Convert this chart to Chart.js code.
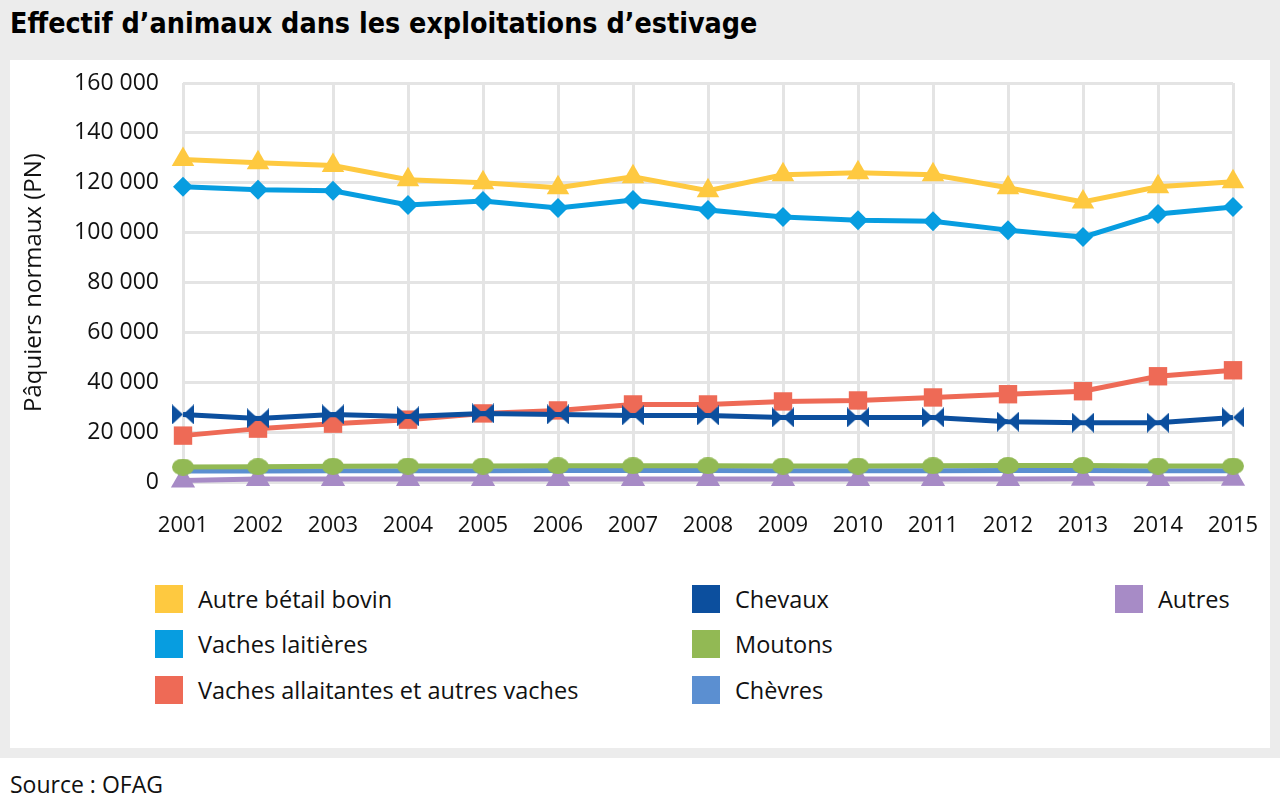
<!DOCTYPE html>
<html lang="fr">
<head>
  <meta charset="UTF-8">
  <title>Effectif d'animaux dans les exploitations d'estivage</title>
  <script src="https://cdn.jsdelivr.net/npm/chart.js"></script>
  <style>
    body {
      margin: 0;
      width: 1280px;
      height: 807px;
      background: #fff;
      font-family: "Open Sans", Arial, sans-serif;
      position: relative;
      overflow: hidden;
    }
    #top {
      position: absolute; left: 0; top: 0; width: 1280px; height: 758px;
      background: #ececec;
    }
    #panel {
      position: absolute; left: 10px; top: 60px; width: 1260px; height: 688px;
      background: #fff;
    }
    h1 {
      position: absolute; left: 10px; top: 7px; margin: 0;
      font-family: "DejaVu Sans", sans-serif;
      font-stretch: condensed;
      font-weight: bold;
      font-size: 28.4px;
      color: #000;
      white-space: nowrap;
    }
    #chartBox {
      position: absolute; left: 10px; top: 60px; width: 1260px; height: 490px;
    }
    .leg {
      position: absolute; font-size: 23.5px; color: #111; white-space: nowrap;
      line-height: 28px;
    }
    .leg span.box {
      position: absolute; left: -43px; top: 0; width: 28px; height: 28px;
    }
    #source {
      position: absolute; left: 10px; top: 768px; font-size: 23px; color: #111;
    }
  </style>
</head>
<body>
  <div id="top"></div>
  <div id="panel"></div>
  <h1>Effectif d’animaux dans les exploitations d’estivage</h1>
  <div id="chartBox"><canvas id="lineChart"></canvas></div>
  <div id="legend"></div>
  <div id="source">Source : OFAG</div>

  <script>
    const years = ["2001", "2002", "2003", "2004", "2005", "2006", "2007", "2008",
                   "2009", "2010", "2011", "2012", "2013", "2014", "2015"];

    const autreBetail = [129300, 128000, 126900, 121200, 120000, 118000, 122400, 116800,
                         123200, 124000, 123200, 118000, 112300, 118400, 120400];
    const vachesLaitieres = [118400, 117200, 116800, 111100, 112700, 109900, 113100, 109100,
                             106300, 105000, 104600, 101000, 98200, 107500, 110300];
    const vachesAllaitantes = [18600, 21400, 23400, 25000, 27500, 28700, 31100, 31100,
                               32300, 32700, 33900, 35200, 36400, 42400, 44800];
    const chevaux = [27100, 25500, 27100, 26300, 27500, 27100, 26700, 26700,
                     25900, 25900, 25900, 24200, 23800, 23800, 25900];
    const moutons = [6000, 6100, 6300, 6400, 6400, 6500, 6500, 6500,
                     6400, 6400, 6500, 6600, 6600, 6400, 6400];
    const chevres = [4400, 4400, 4500, 4500, 4500, 4600, 4600, 4600,
                     4500, 4500, 4500, 4600, 4600, 4500, 4500];
    const autres = [600, 1200, 1200, 1200, 1200, 1200, 1200, 1200,
                    1200, 1200, 1200, 1200, 1300, 1200, 1300];

    const yTicks = [0, 20000, 40000, 60000, 80000, 100000, 120000, 140000, 160000];

    const colors = {
      autreBetail: "#fec940",
      vachesLaitieres: "#079de0",
      vachesAllaitantes: "#ee6a56",
      chevaux: "#0c4f9e",
      moutons: "#92b954",
      chevres: "#5b8fd1",
      autres: "#a78bc6"
    };

    // custom markers
    function bowtie(color) {
      const c = document.createElement("canvas");
      c.width = 22; c.height = 20;
      const g = c.getContext("2d");
      g.fillStyle = color;
      g.beginPath();
      g.moveTo(0, 0); g.lineTo(11, 10); g.lineTo(0, 20); g.closePath();
      g.moveTo(22, 0); g.lineTo(11, 10); g.lineTo(22, 20); g.closePath();
      g.fill();
      return c;
    }
    function ellipse(color) {
      const c = document.createElement("canvas");
      c.width = 22; c.height = 17;
      const g = c.getContext("2d");
      g.fillStyle = color;
      g.beginPath();
      g.ellipse(11, 8.5, 11, 8.5, 0, 0, Math.PI * 2);
      g.fill();
      return c;
    }

    function series(label, data, color, style, radius, order) {
      return {
        label: label,
        data: data,
        borderColor: color,
        backgroundColor: color,
        borderWidth: 5,
        pointStyle: style,
        pointRadius: radius,
        pointBorderWidth: 0,
        pointHoverRadius: radius,
        clip: false,
        order: order
      };
    }

    const datasets = [
      series("Autre bétail bovin", autreBetail, colors.autreBetail, "triangle", 13, 1),
      series("Vaches laitières", vachesLaitieres, colors.vachesLaitieres, "rectRot", 10, 2),
      series("Vaches allaitantes et autres vaches", vachesAllaitantes, colors.vachesAllaitantes, "rect", 13, 4),
      series("Chevaux", chevaux, colors.chevaux, bowtie(colors.chevaux), 10, 3),
      series("Moutons", moutons, colors.moutons, ellipse(colors.moutons), 10, 5),
      series("Chèvres", chevres, colors.chevres, "circle", 6, 7),
      series("Autres", autres, colors.autres, "triangle", 14, 6)
    ];

    // legend in three columns
    const legendPos = [
      [198, 585], [198, 630], [198, 676],
      [735, 585], [735, 630], [735, 676],
      [1158, 585]
    ];
    const legend = document.getElementById("legend");
    datasets.forEach(function (ds, i) {
      const d = document.createElement("div");
      d.className = "leg";
      d.style.left = legendPos[i][0] + "px";
      d.style.top = legendPos[i][1] + "px";
      d.innerHTML = '<span class="box" style="background:' + ds.borderColor + '"></span>' + ds.label;
      legend.appendChild(d);
    });

    const ctx = document.getElementById("lineChart").getContext("2d");
    new Chart(ctx, {
      type: "line",
      data: { labels: years, datasets: datasets },
      options: {
        responsive: true,
        maintainAspectRatio: false,
        animation: false,
        layout: { padding: { top: 23, right: 37, left: 0, bottom: 0 } },
        plugins: { legend: { display: false }, tooltip: { enabled: false } },
        scales: {
          x: {
            offset: false,
            grid: { color: "#e4e4e4", lineWidth: 3, drawTicks: false },
            border: { display: false },
            ticks: {
              padding: 31,
              color: "#111",
              font: { family: "Open Sans", size: 22 },
              maxRotation: 0
            },
            afterFit: function (s) {
              s.height = 68;
              s.paddingLeft = 0;
              s.paddingRight = 0;
            }
          },
          y: {
            min: 0,
            max: 160000,
            afterBuildTicks: function (s) { s.ticks = yTicks.map(function (v) { return { value: v }; }); },
            grid: { color: "#e4e4e4", lineWidth: 3, drawTicks: false },
            border: { display: false },
            ticks: {
              padding: 24,
              color: "#111",
              font: { family: "Open Sans", size: 23 },
              callback: function (v) {
                const s = String(v);
                return s.length > 3 ? s.slice(0, s.length - 3) + " " + s.slice(-3) : s;
              }
            },
            title: {
              display: true,
              text: "Pâquiers normaux (PN)",
              color: "#111",
              font: { family: "Open Sans", size: 24 },
              padding: { top: 10, bottom: 0 }
            },
            afterFit: function (s) {
              s.width = 173;
              s.paddingTop = 0;
              s.paddingBottom = 0;
            }
          }
        }
      }
    });
  </script>
</body>
</html>
